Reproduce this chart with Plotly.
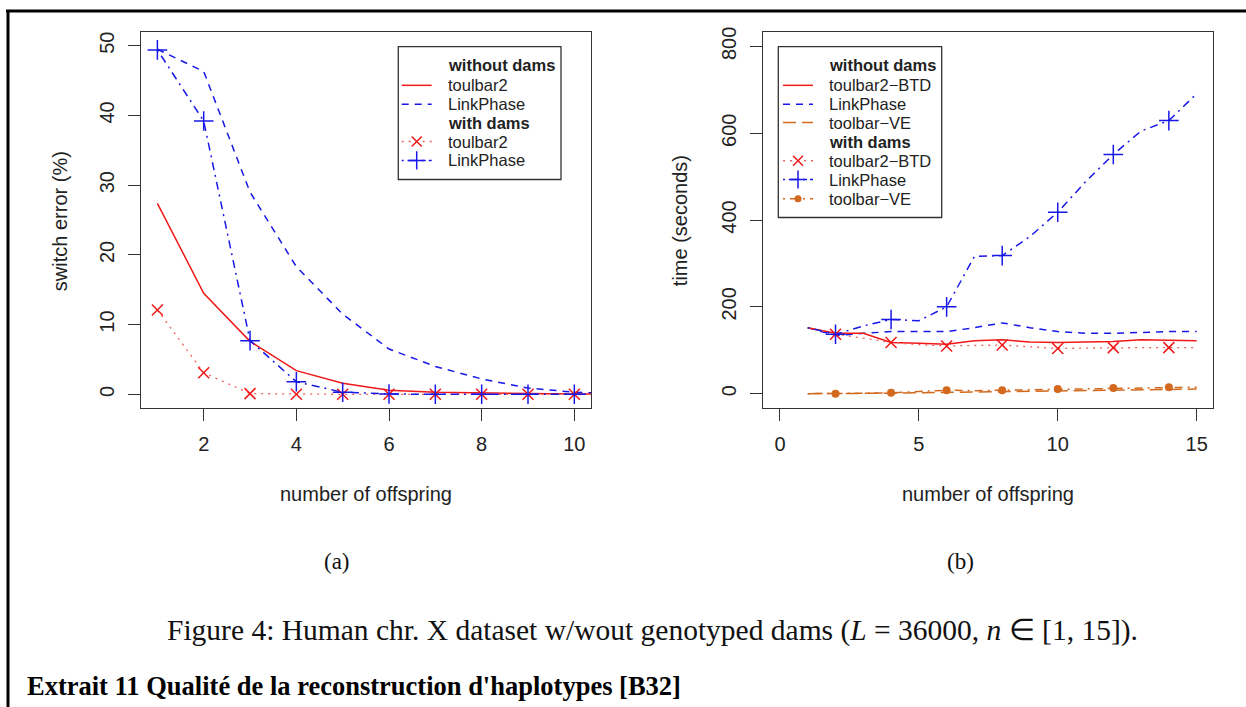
import plotly.graph_objects as go

# ---------------- data ----------------
offspring_a = [1, 2, 3, 4, 5, 6, 7, 8, 9, 10, 11]
err_tb2_nodams = [27.4, 14.5, 7.6, 3.4, 1.6, 0.6, 0.3, 0.15, 0.1, 0.05, 0.03]
err_lp_nodams = [49.5, 46.3, 29.0, 18.3, 11.5, 6.5, 4.0, 2.2, 0.9, 0.3, 0.1]
err_tb2_dams = [12.1, 3.1, 0.1, 0.0, 0.0, 0.0, 0.0, 0.0, 0.0, 0.0, 0.0]
err_lp_dams = [49.4, 39.2, 7.7, 1.8, 0.3, 0.05, 0.0, 0.0, 0.0, 0.0, 0.0]

offspring_b = [1, 2, 3, 4, 5, 6, 7, 8, 9, 10, 11, 12, 13, 14, 15]
time_tb2_nodams = [152, 139, 139, 118, 116, 114, 122, 124, 119, 118, 119, 120, 124, 123, 122]
time_lp_nodams = [152, 134, 139, 143, 143, 143, 152, 163, 152, 143, 139, 139, 141, 143, 143]
time_ve_nodams = [0, 0, 0.5, 1, 2, 3, 4, 5, 6, 7, 8, 9, 9.5, 10, 10.5]
time_tb2_dams = [152, 137, 128, 118, 113, 110, 111, 112, 108, 104, 105, 106, 106, 106, 106]
time_lp_dams = [152, 137, 156, 171, 168, 200, 316, 318, 362, 418, 488, 551, 605, 629, 691]
time_ve_dams = [0, 0, 1, 2, 5, 8, 7, 8, 9, 11, 12, 13, 14, 15, 15]

ticks_a_x = [2, 4, 6, 8, 10]
ticks_a_y = [0, 10, 20, 30, 40, 50]
ticks_b_x = [0, 5, 10, 15]
ticks_b_y = [0, 200, 400, 600, 800]

legend_a = ["<b>without dams</b>", "toulbar2", "LinkPhase", "<b>with dams</b>", "toulbar2", "LinkPhase"]
legend_b = ["<b>without dams</b>", "toulbar2\u2212BTD", "LinkPhase", "toolbar\u2212VE",
            "<b>with dams</b>", "toulbar2\u2212BTD", "LinkPhase", "toolbar\u2212VE"]

# ---------------- styling ----------------
W, H = 1246, 707
def X(px): return px / W
def Y(py): return 1 - py / H

RED = "#F01818"
RED_DOT = "#F06060"
BLUE = "#1818E6"
ORANGE = "#D2691E"
DASHED = "7px,6px"
DOTTED = "2px,5px"
DOTDASH = "2px,5px,8px,5px"
LONGDASH = "13px,6px"
LW = 1.5
SANS = "Liberation Sans"
SERIF = "Liberation Serif"
TXT = "#222222"
AX = "#333333"

def every_other(seq):
    return seq[1::2]

fig = go.Figure()

def line(x, y, color, dash, xa, ya, width=LW):
    fig.add_trace(go.Scatter(x=x, y=y, mode="lines", xaxis=xa, yaxis=ya, showlegend=False,
                             line=dict(color=color, width=width, dash=dash), hoverinfo="skip"))

def marks(x, y, color, symbol, size, xa, ya):
    if symbol == "circle":
        mk = dict(symbol="circle", size=size, color=color, line=dict(width=0))
    else:
        mk = dict(symbol=symbol, size=size, color=color, line=dict(width=1.5, color=color))
    fig.add_trace(go.Scatter(x=x, y=y, mode="markers", xaxis=xa, yaxis=ya, showlegend=False,
                             marker=mk, hoverinfo="skip"))

# ---- panel (a)
line(offspring_a, err_lp_nodams, BLUE, DASHED, "x", "y")
line(offspring_a, err_tb2_nodams, RED, "solid", "x", "y")
line(offspring_a, err_tb2_dams, RED_DOT, DOTTED, "x", "y", width=1.3)
line(offspring_a, err_lp_dams, BLUE, DOTDASH, "x", "y")
marks(offspring_a, err_tb2_dams, RED, "x-thin", 11, "x", "y")
marks(offspring_a, err_lp_dams, BLUE, "cross-thin", 14, "x", "y")

# ---- panel (b)
line(offspring_b, time_lp_nodams, BLUE, DASHED, "x2", "y2")
line(offspring_b, time_tb2_nodams, RED, "solid", "x2", "y2")
line(offspring_b, time_ve_nodams, ORANGE, LONGDASH, "x2", "y2")
line(offspring_b, time_tb2_dams, RED_DOT, DOTTED, "x2", "y2", width=1.3)
line(offspring_b, time_lp_dams, BLUE, DOTDASH, "x2", "y2")
line(offspring_b, time_ve_dams, ORANGE, DOTDASH, "x2", "y2")
marks(every_other(offspring_b), every_other(time_tb2_dams), RED, "x-thin", 11, "x2", "y2")
marks(every_other(offspring_b), every_other(time_lp_dams), BLUE, "cross-thin", 14, "x2", "y2")
marks(every_other(offspring_b), every_other(time_ve_dams), ORANGE, "circle", 8, "x2", "y2")

# ---- legends (keys drawn on an invisible pixel-space overlay axis)
def legend_keys(x0, x1, rows, styles):
    xc = (x0 + x1) / 2
    for r, st in zip(rows, styles):
        if st is None:
            continue
        color, lcolor, dash, sym, size = st
        line([x0, x1], [r, r], lcolor, dash, "x3", "y3")
        if sym:
            marks([xc], [r], color, sym, size, "x3", "y3")

rows_a = [60, 80, 99, 117.5, 136.7, 155.7]
rows_b = [60, 80, 99, 117.5, 137.3, 156, 175, 194.3]
legend_keys(401.7, 431.7, rows_a,
            [None, (RED, RED, "solid", None, 0), (BLUE, BLUE, DASHED, None, 0), None,
             (RED, RED_DOT, DOTTED, "x-thin", 10), (BLUE, BLUE, DOTDASH, "cross-thin", 13)])
legend_keys(783, 813, rows_b,
            [None, (RED, RED, "solid", None, 0), (BLUE, BLUE, DASHED, None, 0),
             (ORANGE, ORANGE, LONGDASH, None, 0), None,
             (RED, RED_DOT, DOTTED, "x-thin", 10), (BLUE, BLUE, DOTDASH, "cross-thin", 13),
             (ORANGE, ORANGE, DOTDASH, "circle", 7)])

def note(px, py, text, family, size, color=TXT, angle=0, xanchor="center"):
    return dict(x=X(px), y=Y(py), xref="paper", yref="paper", text=text, showarrow=False,
                xanchor=xanchor, yanchor="middle", textangle=angle,
                font=dict(family=family, size=size, color=color))

annotations = []
for r, t in zip(rows_a, legend_a):
    annotations.append(note(446, r, t, SANS, 16.5, xanchor="left"))
for r, t in zip(rows_b, legend_b):
    annotations.append(note(827.3, r, t, SANS, 16.5, xanchor="left"))

annotations += [
    note(60, 217, "switch error (%)", SANS, 20, angle=-90),
    note(680, 217, "time (seconds)", SANS, 20, angle=-90),
    note(366, 492, "number of offspring", SANS, 20),
    note(988, 492, "number of offspring", SANS, 20),
    note(337, 560, "(a)", SERIF, 23, color="#111"),
    note(960, 560, "(b)", SERIF, 23, color="#111"),
    note(652, 630,
         "Figure 4: Human chr. X dataset w/wout genotyped dams (<i>L</i> = 36000, <i>n</i> \u2208 [1, 15]).",
         SERIF, 29.5, color="#111"),
    note(25, 686, "<b>Extrait 11 Qualité de la reconstruction d'haplotypes [B32]</b>",
         SERIF, 26.5, color="#000", xanchor="left"),
]

shapes = [
    dict(type="rect", xref="paper", yref="paper", x0=X(398.3), x1=X(561), y0=Y(175), y1=Y(41),
         line=dict(color=AX, width=1.3)),
    dict(type="rect", xref="paper", yref="paper", x0=X(778.3), x1=X(941.7), y0=Y(213.3), y1=Y(41),
         line=dict(color=AX, width=1.3)),
    dict(type="line", xref="paper", yref="paper", x0=X(6), x1=1, y0=Y(5), y1=Y(5),
         line=dict(color="#000", width=3)),
    dict(type="line", xref="paper", yref="paper", x0=X(8), x1=X(8), y0=Y(4), y1=0,
         line=dict(color="#000", width=3)),
]

def xax(domain, rng, ticks, anchor):
    return dict(domain=domain, range=rng, tickvals=ticks, ticks="outside", ticklen=12, tickwidth=1.2,
                tickcolor=AX, showline=True, mirror=True, linecolor=AX, linewidth=1.3,
                showgrid=False, zeroline=False, anchor=anchor, ticklabelstandoff=6,
                tickfont=dict(family=SANS, size=20, color=TXT))

def yax(domain, rng, ticks, anchor):
    return dict(domain=domain, range=rng, tickvals=ticks, ticks="outside", ticklen=12, tickwidth=1.2,
                tickcolor=AX, showline=True, mirror=True, linecolor=AX, linewidth=1.3,
                showgrid=False, zeroline=False, anchor=anchor, tickangle=-90, ticklabelstandoff=6,
                tickfont=dict(family=SANS, size=20, color=TXT))

ydom = [Y(405), Y(26.7)]
fig.update_layout(
    width=W, height=H, margin=dict(l=0, r=0, t=0, b=0),
    paper_bgcolor="white", plot_bgcolor="rgba(0,0,0,0)",
    xaxis=xax([X(140.7), X(591)], [0.64, 10.36], ticks_a_x, "y"),
    yaxis=yax(ydom, [-1.9, 51.9], ticks_a_y, "x"),
    xaxis2=xax([X(763.3), X(1213.3)], [-0.6, 15.6], ticks_b_x, "y2"),
    yaxis2=yax(ydom, [-32, 832], ticks_b_y, "x2"),
    xaxis3=dict(domain=[0, 1], range=[0, W], visible=False, anchor="y3", fixedrange=True),
    yaxis3=dict(domain=[0, 1], range=[H, 0], visible=False, anchor="x3", fixedrange=True),
    annotations=annotations, shapes=shapes, showlegend=False,
)

fig.write_html("out.html")
